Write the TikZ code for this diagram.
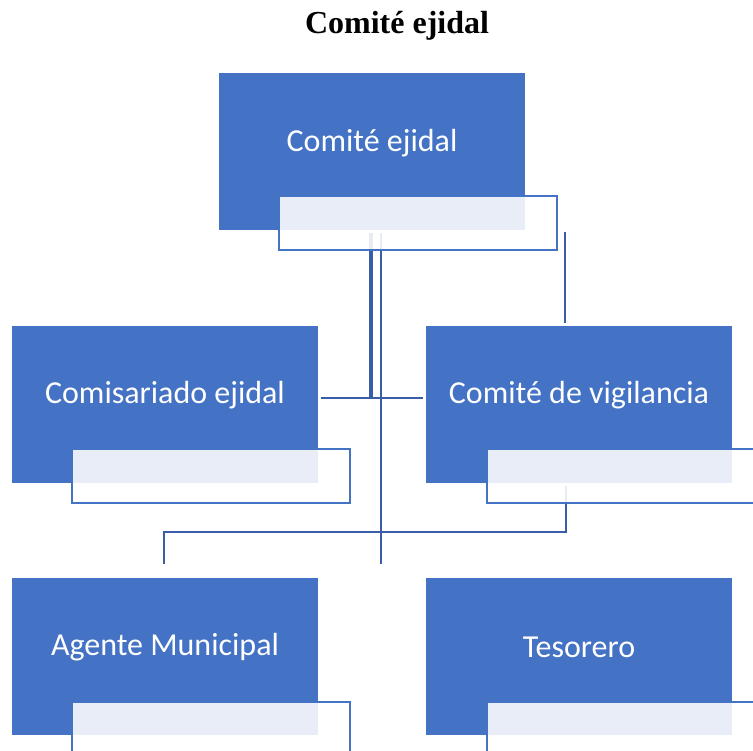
\documentclass[tikz,border=0pt]{standalone}
\usepackage{fontspec}
\setmainfont{Liberation Serif}
\newfontfamily\boxfont{Carlito}
\definecolor{accent}{HTML}{4472C4}
\definecolor{linkcol}{HTML}{3A5DA8}
\begin{document}
\begin{tikzpicture}[x=1pt,y=-1pt,
  mainbox/.style={fill=accent, draw=none, minimum width=306pt, minimum height=157pt, anchor=north west, inner sep=0pt, outer sep=0pt},
  subbox/.style={fill=white, fill opacity=0.88, draw=accent, draw opacity=1, line width=2.2pt, minimum width=278pt, minimum height=54pt, anchor=north west, inner sep=0pt, outer sep=0pt},
  boxtext/.style={text=white, font=\boxfont\fontsize{32}{37}\selectfont, inner sep=0pt},
  link/.style={draw=linkcol, line width=2.8pt}]
\clip (0,0) rectangle (753,751);
\useasboundingbox (0,0) rectangle (753,751);
% title
\node[font=\bfseries\fontsize{32}{38}\selectfont, inner sep=0pt] (title) at (397,26) {Comité ejidal};
% main boxes
\node[mainbox] (b1) at (219,73) {};
\node[mainbox] (b2) at (12,326) {};
\node[mainbox] (b3) at (426,326) {};
\node[mainbox] (b4) at (12,578) {};
\node[mainbox] (b5) at (426,578) {};
% connector helpers
\coordinate (h) at ([yshift=6.5pt]b2.east);
\coordinate (v1) at ([xshift=-1pt,yshift=-3pt]b1.south);
\coordinate (v2) at ([xshift=9pt,yshift=-3pt]b1.south);
\coordinate (v3) at ([xshift=193pt,yshift=-2pt]b1.south);
\coordinate (e2) at ([yshift=14pt]b4.north -| v2);
\coordinate (e3) at ([yshift=3pt]b3.north -| v3);
\coordinate (w1) at ([xshift=-13pt,yshift=-3pt]b3.south);
\coordinate (w2) at ([yshift=-46pt]w1);
\coordinate (w4) at ([xshift=-1pt,yshift=14pt]b4.north);
% connectors
\draw[link, line width=3.8pt] (v1) -- (v1 |- h);
\draw[link] (v2) -- (e2);
\draw[link] (v3) -- (e3);
\draw[link] ([xshift=3pt]h) -- ([xshift=-3pt]b3.west |- h);
\draw[link] (w1) -- (w2) -- (w2 -| w4) -- (w4);
% sub boxes
\node[subbox] (s1) at (279,196) {};
\node[subbox] (s2) at (72,449) {};
\node[subbox] (s3) at (487,449) {};
\node[subbox] (s4) at (72,702) {};
\node[subbox] (s5) at (487,702) {};
% texts
\node[boxtext] (t1) at ([yshift=-70pt]b1.north) {Comité ejidal};
\node[boxtext] (t2) at ([yshift=-69pt]b2.north) {Comisariado ejidal};
\node[boxtext] (t3) at ([yshift=-69pt]b3.north) {Comité de vigilancia};
\node[boxtext] (t4) at ([yshift=-69pt]b4.north) {Agente Municipal};
\node[boxtext] (t5) at ([yshift=-69pt]b5.north) {Tesorero};
\end{tikzpicture}
\end{document}
